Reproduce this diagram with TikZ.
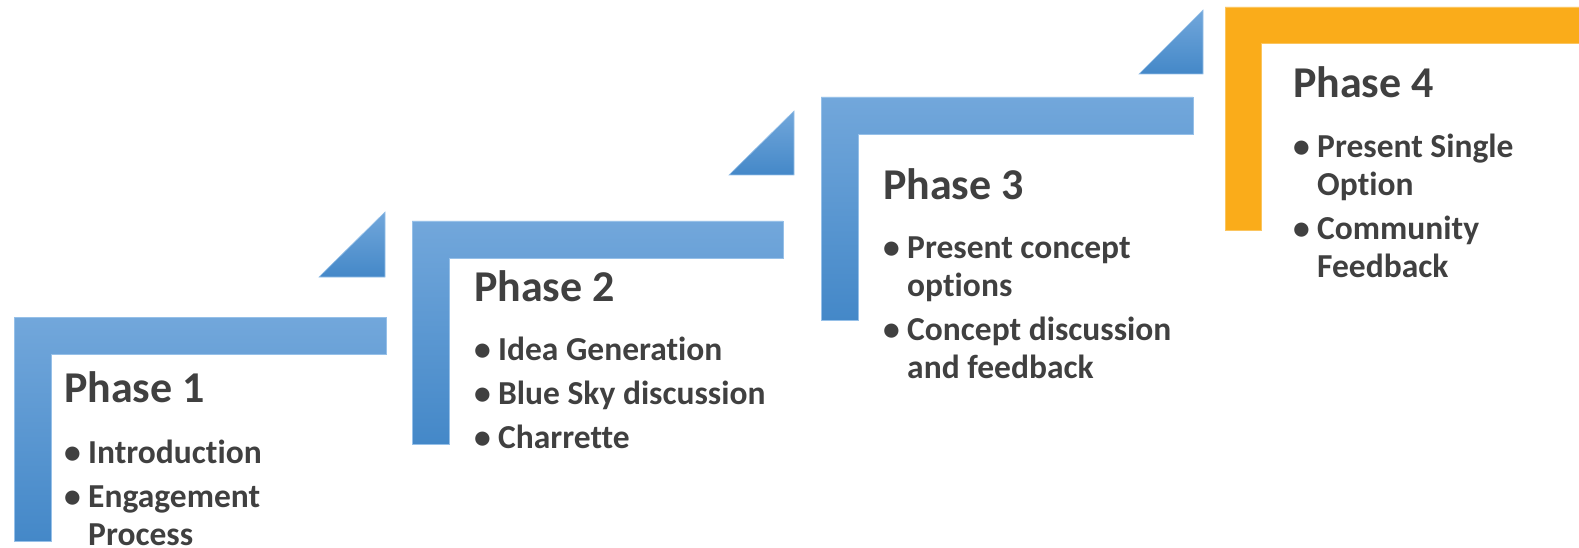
\documentclass[tikz,border=0pt]{standalone}
\usepackage{fontspec}
\setmainfont{Carlito}[Ligatures={NoCommon}]
\usepackage{tikz}
\usepackage{xcolor}
\definecolor{steplight}{RGB}{114,167,219}
\definecolor{stepmid}{RGB}{91,155,214}
\definecolor{stepdark}{RGB}{68,136,200}
\definecolor{stepedge}{RGB}{150,192,232}
\definecolor{amber}{RGB}{250,172,26}
\definecolor{textgray}{RGB}{64,64,64}

% one bullet of a phase list, hanging indent for wrapped lines
\newcommand{\phaseitem}[1]{\setlength{\parskip}{6pt}\hangindent=24pt\hangafter=1\makebox[24pt][l]{\textbullet}#1\par}

\begin{document}
\begin{tikzpicture}[x=1pt, y=-1pt,
  stepblue/.style={top color=steplight, middle color=stepmid, bottom color=stepdark, draw=stepedge, line width=0.6pt},
  steporange/.style={fill=amber, draw=amber!70!white, line width=0.6pt},
  phasetitle/.style={anchor=base west, inner sep=0pt, text=textgray, font=\fontsize{44}{50}\selectfont\bfseries},
  phaselist/.style={anchor=base west, inner sep=0pt, text width=320pt, align=flush left, text=textgray, font=\fontsize{33.5}{38}\selectfont\bfseries}]
  \useasboundingbox (0,0) rectangle (1579,548);

  % stair steps
  \draw[stepblue] (14,317) -- (386,317) -- (386,354) -- (51,354) -- (51,541) -- (14,541) -- cycle;
  \draw[stepblue] (412,221) -- (783,221) -- (783,258) -- (449,258) -- (449,444) -- (412,444) -- cycle;
  \draw[stepblue] (821,97) -- (1193,97) -- (1193,134) -- (858,134) -- (858,320) -- (821,320) -- cycle;
  \draw[steporange] (1225,7) -- (1579,7) -- (1579,43) -- (1261,43) -- (1261,230) -- (1225,230) -- cycle;

  % little arrow corners between the steps
  \draw[stepblue] (319,277) -- (385,277) -- (385,212) -- cycle;
  \draw[stepblue] (729,175) -- (794,175) -- (794,111) -- cycle;
  \draw[stepblue] (1139,74) -- (1203,74) -- (1203,10) -- cycle;

  % phase texts
  \node[phasetitle] (p1title) at (64,402) {Phase 1};
  \node[phaselist] (p1list) at (64,463) {\phaseitem{Introduction}\phaseitem{Engagement\newline Process}};

  \node[phasetitle] (p2title) at (474,301) {Phase 2};
  \node[phaselist] (p2list) at (474,360) {\phaseitem{Idea Generation}\phaseitem{Blue Sky discussion}\phaseitem{Charrette}};

  \node[phasetitle] (p3title) at (883,200) {Phase 3};
  \node[phaselist] (p3list) at (883,258) {\phaseitem{Present concept\newline options}\phaseitem{Concept discussion\newline and feedback}};

  \node[phasetitle] (p4title) at (1293,98) {Phase 4};
  \node[phaselist] (p4list) at (1293,158) {\phaseitem{Present Single\newline Option}\phaseitem{Community\newline Feedback}};
\end{tikzpicture}
\end{document}
